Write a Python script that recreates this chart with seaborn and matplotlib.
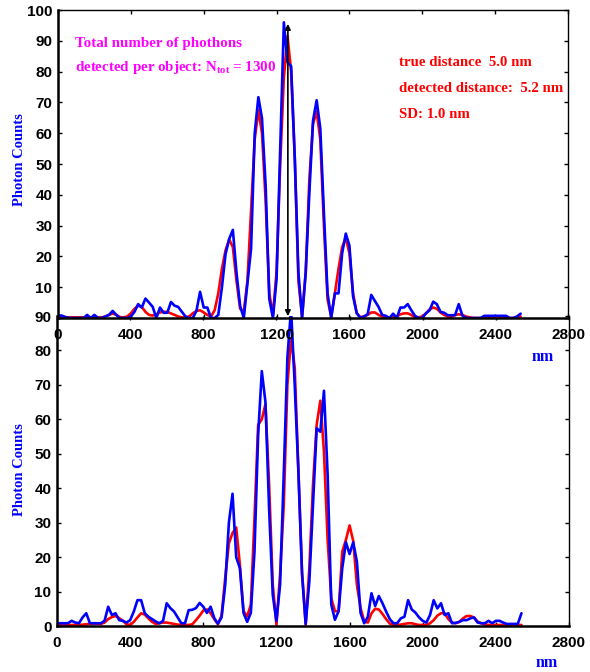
import numpy as np
import pandas as pd
import matplotlib
matplotlib.use("Agg")
import matplotlib.pyplot as plt
import seaborn as sns

# ---------------- data ----------------
position_nm = np.arange(0, 2541, 20)  # sampling grid, 20 nm

top_model = [  # red, upper panel
    0.5, 0.5, 0.3, 0.2, 0.2, 0.2, 0.2, 0.2, 0.2, 0.2,
    0.2, 0.2, 0.2, 0.5, 1.0, 1.5, 1.0, 0.3, 0.2, 0.5,
    1.5, 3.0, 4.0, 3.6, 2.0, 1.0, 0.8, 1.2, 1.8, 2.0,
    2.0, 1.5, 1.0, 0.5, 0.2, 0.2, 0.5, 1.5, 2.3, 2.5,
    1.8, 1.0, 0.5, 2.5, 8.0, 16.0, 22.0, 25.5, 23.0, 12.0,
    3.0, 2.0, 12.0, 35.0, 58.0, 67.5, 60.0, 38.0, 8.0, 1.0,
    15.0, 50.0, 78.0, 91.5, 80.0, 52.0, 12.0, 0.5, 15.0, 45.0,
    63.0, 67.0, 58.0, 30.0, 6.0, 0.5, 8.0, 16.0, 23.0, 26.0,
    21.0, 8.0, 1.5, 0.3, 0.5, 1.0, 1.8, 1.8, 1.0, 0.5,
    0.2, 0.0, 0.2, 0.5, 1.2, 1.5, 1.5, 1.0, 0.3, 0.2,
    0.5, 1.5, 2.8, 3.4, 3.0, 1.8, 1.0, 0.5, 0.3, 1.0,
    1.2, 1.0, 0.5, 0.2, 0.0, 0.0, 0.0, 0.0, 0.0, 0.0,
    0.2, 0.3, 0.3, 0.2, 0.0, 0.0, 0.2, 0.5,
]
top_measured = [  # blue, upper panel
    0.8, 0.8, 0.3, 0.0, 0.0, 0.0, 0.0, 0.0, 1.0, 0.0,
    1.0, 0.0, 0.0, 0.5, 1.0, 2.3, 1.0, 0.0, 0.0, 0.0,
    0.5, 2.0, 4.5, 3.4, 6.3, 5.0, 3.6, 0.0, 3.4, 1.7,
    1.7, 5.2, 4.0, 3.6, 2.0, 0.5, 0.0, 0.0, 2.3, 8.5,
    3.4, 3.4, 0.0, 0.0, 1.0, 10.0, 20.8, 25.7, 28.6, 14.7,
    3.9, 0.0, 11.4, 22.5, 60.0, 71.7, 64.8, 43.0, 6.2, 0.0,
    12.7, 55.0, 96.0, 83.0, 81.8, 51.8, 14.7, 0.0, 14.7, 40.7,
    64.0, 70.7, 61.6, 34.0, 8.0, 0.0, 8.0, 8.0, 21.0, 27.4,
    23.5, 7.0, 1.6, 0.0, 0.5, 1.2, 7.5, 5.5, 3.6, 1.0,
    0.7, 0.0, 1.4, 0.0, 3.4, 3.4, 4.5, 2.5, 0.7, 0.0,
    0.0, 1.5, 2.5, 5.3, 4.5, 2.0, 1.7, 0.9, 0.9, 0.9,
    4.5, 0.8, 0.0, 0.0, 0.0, 0.0, 0.0, 0.7, 0.7, 0.7,
    0.7, 0.7, 0.7, 0.7, 0.0, 0.0, 0.5, 1.4,
]
bottom_model = [  # red, lower panel
    0.3, 0.3, 0.3, 0.3, 0.3, 0.3, 0.3, 0.4, 0.5, 0.6,
    0.6, 0.6, 0.6, 1.0, 2.0, 2.6, 2.9, 2.3, 1.5, 0.5,
    0.3, 1.2, 2.5, 3.7, 3.3, 2.2, 1.2, 0.6, 0.8, 1.0,
    1.0, 0.8, 0.6, 0.4, 0.3, 0.3, 0.3, 0.5, 1.7, 3.0,
    4.5, 4.8, 3.7, 2.0, 0.5, 3.0, 14.0, 24.0, 27.0, 28.6,
    17.8, 4.3, 2.8, 6.2, 31.3, 58.4, 60.0, 64.4, 41.0, 12.0,
    0.4, 15.0, 35.0, 70.0, 83.5, 75.0, 45.8, 15.8, 0.4, 16.8,
    41.0, 58.4, 65.4, 50.6, 25.0, 8.0, 4.3, 4.3, 21.6, 25.0,
    29.2, 24.7, 12.0, 5.2, 1.4, 1.0, 3.7, 5.0, 4.8, 3.5,
    2.0, 0.7, 0.3, 0.3, 0.4, 0.6, 0.8, 0.8, 0.5, 0.3,
    0.3, 0.3, 0.8, 1.7, 3.0, 3.7, 3.7, 2.0, 1.0, 0.8,
    1.2, 2.2, 2.9, 2.9, 2.5, 1.3, 0.8, 0.4, 0.3, 0.3,
    0.3, 0.3, 0.3, 0.3, 0.3, 0.3, 0.3, 0.3,
]
bottom_measured = [  # blue, lower panel
    0.8, 0.8, 0.8, 0.8, 1.5, 1.0, 0.8, 2.5, 3.7, 0.8,
    0.8, 0.8, 0.8, 1.5, 5.6, 3.2, 3.7, 1.7, 1.5, 1.0,
    1.7, 4.2, 7.5, 7.5, 3.7, 2.7, 2.0, 1.3, 0.8, 1.5,
    6.6, 5.2, 4.2, 2.5, 0.8, 0.8, 4.6, 4.7, 5.2, 6.7,
    5.6, 3.8, 5.6, 2.3, 0.7, 2.5, 12.0, 30.0, 38.4, 20.0,
    16.8, 3.8, 1.2, 3.8, 21.6, 55.5, 74.0, 65.0, 34.0, 9.0,
    1.4, 12.0, 44.0, 78.0, 92.0, 70.0, 45.0, 15.0, 0.6, 13.0,
    35.0, 57.4, 56.4, 68.3, 44.0, 6.2, 1.8, 4.3, 16.8, 24.3,
    20.9, 24.3, 18.7, 3.8, 0.8, 2.7, 9.5, 5.8, 8.7, 6.6,
    4.2, 2.0, 0.8, 0.8, 2.2, 2.7, 7.5, 4.8, 3.9, 2.5,
    1.5, 1.0, 3.2, 7.5, 5.1, 6.6, 3.2, 3.7, 0.8, 0.9,
    1.2, 1.7, 1.7, 2.2, 2.5, 1.0, 0.8, 0.8, 1.5, 0.8,
    1.5, 1.5, 1.0, 0.6, 0.6, 0.6, 0.6, 3.7,
]

x_ticks = [0, 400, 800, 1200, 1600, 2000, 2400, 2800]
top_y_ticks = [0, 10, 20, 30, 40, 50, 60, 70, 80, 90, 100]
top_y_labels = ["", "10", "20", "30", "40", "50", "60", "70", "80", "90", "100"]
bottom_y_ticks = [0, 10, 20, 30, 40, 50, 60, 70, 80, 90]

photon_text = ["Total number of phothons",
               r"detected per object: N$_{\mathrm{tot}}$ = 1300"]
distance_text = ["true distance  5.0 nm",
                 "detected distance:  5.2 nm",
                 "SD: 1.0 nm"]
arrow_x, arrow_top, arrow_bottom = 1262, 95.5, 0.6

# ---------------- style ----------------
sns.set_theme(style="white")
plt.rcParams["font.family"] = ["Liberation Sans Narrow", "Liberation Sans", "DejaVu Sans"]
plt.rcParams["font.weight"] = "bold"
plt.rcParams["mathtext.fontset"] = "custom"
plt.rcParams["mathtext.rm"] = "Liberation Serif:bold"
plt.rcParams["mathtext.it"] = "Liberation Serif:bold"
plt.rcParams["mathtext.bf"] = "Liberation Serif:bold"

W, H = 590, 672
fig = plt.figure(figsize=(W / 100, H / 100), dpi=100)
fig.patch.set_facecolor("white")

ax2 = fig.add_axes([57 / W, (H - 626) / H, 512 / W, 310 / H])
ax1 = fig.add_axes([58 / W, (H - 318) / H, 510 / W, 308 / H])
ax1.set_zorder(3)
for a in (ax1, ax2):
    a.patch.set_visible(False)

top_df = pd.DataFrame({"nm": position_nm, "model": top_model, "measured": top_measured})
bot_df = pd.DataFrame({"nm": position_nm, "model": bottom_model, "measured": bottom_measured})

for a, df in ((ax1, top_df), (ax2, bot_df)):
    sns.lineplot(data=df, x="nm", y="model", color="#ff0000", lw=1.9, ax=a)
    sns.lineplot(data=df, x="nm", y="measured", color="#0000ff", lw=1.9, ax=a)
    a.set_xlim(0, 2800)
    a.set_xticks(x_ticks)
    a.set_xticklabels([str(t) for t in x_ticks])
    a.set_xlabel("")
    a.set_ylabel("")
    a.tick_params(axis="both", direction="in", length=3, width=1,
                  top=True, right=True, left=True, bottom=True,
                  labelsize=11, colors="black")
    a.tick_params(axis="x", pad=7)
    a.tick_params(axis="y", pad=4)
    for s in a.spines.values():
        s.set_color("black")
        s.set_linewidth(1.0)
    a.spines["left"].set_linewidth(1.8)
    a.spines["bottom"].set_linewidth(1.8)
    a.grid(False)

ax1.set_ylim(0, 100)
ax1.set_yticks(top_y_ticks)
ax1.set_yticklabels(top_y_labels)
ax2.set_ylim(0, 90)
ax2.set_yticks(bottom_y_ticks)
ax2.set_yticklabels([str(t) for t in bottom_y_ticks])
ax2.spines["top"].set_visible(False)
for a in (ax1, ax2):
    for lab in a.get_xticklabels() + a.get_yticklabels():
        lab.set_fontweight("bold")

ax1.annotate("", xy=(arrow_x, arrow_top), xytext=(arrow_x, arrow_bottom),
             arrowprops=dict(arrowstyle="<|-|>", color="black", lw=1.2,
                             shrinkA=0, shrinkB=0, mutation_scale=8))

serif = dict(family="Liberation Serif", fontweight="bold")
for i, t in enumerate(photon_text):
    fig.text(75 / W, 1 - (43 + 24 * i) / H, t, color="#ff00ff", fontsize=10.8,
             ha="left", va="center", **serif)
for i, t in enumerate(distance_text):
    fig.text(399 / W, 1 - (62 + 26 * i) / H, t, color="#ff0000", fontsize=10.7,
             ha="left", va="center", **serif)

for yc in (160, 470):
    fig.text(20 / W, 1 - yc / H, "Photon Counts", color="#0000ff", fontsize=10.5,
             rotation=90, ha="center", va="center", **serif)
fig.text(543 / W, 1 - 357 / H, "nm", color="#0000ff", fontsize=11.5,
         ha="center", va="center", **serif)
fig.text(547 / W, 1 - 663 / H, "nm", color="#0000ff", fontsize=11.5,
         ha="center", va="center", **serif)

fig.savefig("out.png", dpi=100, facecolor="white")
